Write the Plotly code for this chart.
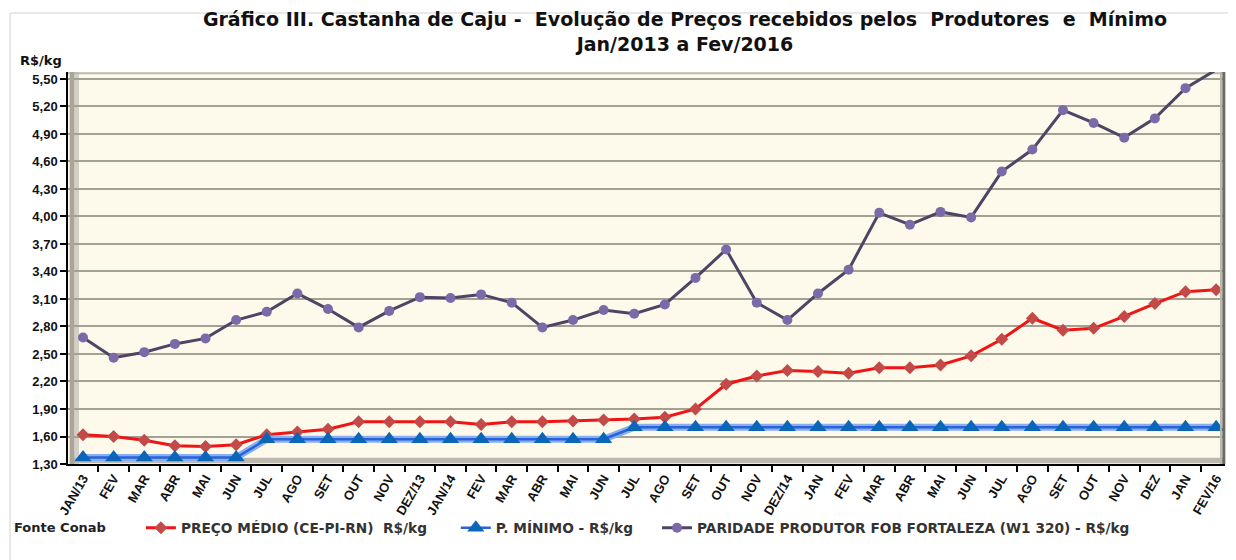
import plotly.graph_objects as go

months = ["JAN/13", "FEV", "MAR", "ABR", "MAI", "JUN", "JUL", "AGO", "SET", "OUT", "NOV", "DEZ/13",
          "JAN/14", "FEV", "MAR", "ABR", "MAI", "JUN", "JUL", "AGO", "SET", "OUT", "NOV", "DEZ/14",
          "JAN", "FEV", "MAR", "ABR", "MAI", "JUN", "JUL", "AGO", "SET", "OUT", "NOV", "DEZ",
          "JAN", "FEV/16"]

preco_medio = [1.62, 1.60, 1.56, 1.50, 1.49, 1.51, 1.62, 1.65, 1.68, 1.76, 1.76, 1.76,
               1.76, 1.73, 1.76, 1.76, 1.77, 1.78, 1.79, 1.81, 1.90, 2.17, 2.26, 2.32,
               2.31, 2.29, 2.35, 2.35, 2.38, 2.48, 2.66, 2.89, 2.76, 2.78, 2.91, 3.05,
               3.18, 3.20]

preco_minimo = [1.37, 1.37, 1.37, 1.37, 1.37, 1.37, 1.57, 1.57, 1.57, 1.57, 1.57, 1.57,
                1.57, 1.57, 1.57, 1.57, 1.57, 1.57, 1.70, 1.70, 1.70, 1.70, 1.70, 1.70,
                1.70, 1.70, 1.70, 1.70, 1.70, 1.70, 1.70, 1.70, 1.70, 1.70, 1.70, 1.70,
                1.70, 1.70]

paridade = [2.68, 2.46, 2.52, 2.61, 2.67, 2.87, 2.96, 3.16, 2.99, 2.79, 2.97, 3.12,
            3.11, 3.15, 3.06, 2.79, 2.87, 2.98, 2.94, 3.04, 3.33, 3.64, 3.06, 2.87,
            3.16, 3.42, 4.04, 3.91, 4.05, 3.99, 4.49, 4.73, 5.16, 5.02, 4.86, 5.07,
            5.40, 5.60]

y_ticks = [1.30, 1.60, 1.90, 2.20, 2.50, 2.80, 3.10, 3.40, 3.70, 4.00, 4.30, 4.60, 4.90, 5.20, 5.50]

NB = "\u00a0"
title_text = ("Gráfico III. Castanha de Caju -" + NB + " Evolução de Preços recebidos pelos" + NB +
              " Produtores" + NB + " e" + NB + " Mínimo<br>Jan/2013 a Fev/2016")
name_medio = "PREÇO MÉDIO (CE-PI-RN)" + NB + " R$/kg" + NB * 5
name_minimo = "P. MÍNIMO - R$/kg" + NB * 4
name_paridade = "PARIDADE PRODUTOR FOB FORTALEZA (W1 320) - R$/kg"

x = list(range(len(months)))
FONT = "Liberation Sans, Arial, sans-serif"
FONT_W = "DejaVu Sans, Verdana, sans-serif"

fig = go.Figure()

fig.add_trace(go.Scatter(
    x=x, y=preco_medio, mode="lines+markers", name=name_medio,
    line=dict(color="#F01414", width=3),
    marker=dict(symbol="diamond", size=10, color="#C24A48"),
    cliponaxis=False))

fig.add_trace(go.Scatter(
    x=x, y=preco_minimo, mode="lines", showlegend=False, hoverinfo="skip",
    line=dict(color="#86AEF0", width=7), cliponaxis=False))

fig.add_trace(go.Scatter(
    x=x, y=preco_minimo, mode="lines+markers", name=name_minimo,
    line=dict(color="#2A62DA", width=2.5),
    marker=dict(symbol="triangle-up", size=15, color="#0B66B8"),
    cliponaxis=False))

fig.add_trace(go.Scatter(
    x=x, y=paridade, mode="lines+markers", name=name_paridade,
    line=dict(color="#4E4464", width=3),
    marker=dict(symbol="circle", size=10, color="#7B69A8"),
    cliponaxis=False))

shapes = [
    # outer chart border
    dict(type="rect", xref="paper", yref="paper", x0=-0.0501, x1=1.02, y0=-0.26, y1=1.1505,
         line=dict(color="#D3D3CB", width=1), layer="below"),
    # left wall shading
    dict(type="rect", xref="paper", yref="paper", x0=0.0015, x1=0.0055, y0=0, y1=1,
         fillcolor="#A9A59A", line=dict(width=0), layer="above"),
    dict(type="rect", xref="paper", yref="paper", x0=0.0055, x1=0.0095, y0=0, y1=1,
         fillcolor="#D2CFC4", line=dict(width=0), layer="below"),
    # floor shading
    dict(type="rect", xref="paper", yref="paper", x0=0.0015, x1=1, y0=0.002, y1=0.016,
         fillcolor="#BDB9AE", line=dict(width=0), layer="below"),
    # top edge
    dict(type="line", xref="paper", yref="paper", x0=0.0, x1=1, y0=0.997, y1=0.997,
         line=dict(color="#BDBBB0", width=2), layer="below"),
    # right edge
    dict(type="line", xref="paper", yref="paper", x0=0.999, x1=0.999, y0=0, y1=1,
         line=dict(color="#6A6A62", width=3), layer="above"),
    dict(type="line", xref="paper", yref="paper", x0=0.9965, x1=0.9965, y0=0, y1=1,
         line=dict(color="#B9B6AB", width=2), layer="above"),
]

# the page body adds an 8px offset; figure sized so it ends at the window edge
fig.update_layout(
    width=1228, height=552,
    margin=dict(l=60, r=11, t=64, b=96),
    paper_bgcolor="white",
    plot_bgcolor="#FDFAEC",
    separators=",.",
    font=dict(family=FONT, color="#111111"),
    title=dict(
        text=title_text,
        x=0.5513, xanchor="center", y=0.967, yanchor="top", yref="container",
        font=dict(family=FONT_W, size=19, weight="bold", color="#111111")),
    showlegend=True,
    legend=dict(orientation="h", x=0.063, xanchor="left", y=-0.163, yanchor="middle",
                font=dict(family=FONT_W, size=13.7, weight="bold", color="#333333"),
                bgcolor="rgba(0,0,0,0)"),
    shapes=shapes,
    annotations=[
        dict(text="R$/kg", xref="paper", yref="paper", x=-0.0432, y=1.0306,
             xanchor="left", yanchor="middle", showarrow=False,
             font=dict(family=FONT_W, size=13, weight="bold", color="#111111")),
        dict(text="Fonte Conab", xref="paper", yref="paper", x=-0.0484, y=-0.163,
             xanchor="left", yanchor="middle", showarrow=False,
             font=dict(family=FONT_W, size=13, weight="bold", color="#222222")),
    ],
)

fig.update_xaxes(
    range=[-0.49, 37.29], tickmode="array", tickvals=x, ticktext=months, tickangle=-60,
    ticks="", showgrid=False, zeroline=False,
    showline=True, linecolor="#000000", linewidth=1.5,
    tickfont=dict(family=FONT, size=13, weight="bold", color="#111111"),
    minor=dict(tick0=0.5, dtick=1, ticks="outside", ticklen=6, tickcolor="#000000", tickwidth=1.5, showgrid=False),
)

fig.update_yaxes(
    range=[1.30, 5.576], tickmode="array", tickvals=y_ticks, tickformat=".2f",
    ticks="outside", ticklen=6, tickcolor="#000000", tickwidth=1.5,
    showgrid=True, gridcolor="#A3A192", gridwidth=1.5, zeroline=False,
    showline=True, linecolor="#000000", linewidth=1.5,
    tickfont=dict(family=FONT, size=13, weight="bold", color="#111111"),
)

fig.write_html("out.html")
